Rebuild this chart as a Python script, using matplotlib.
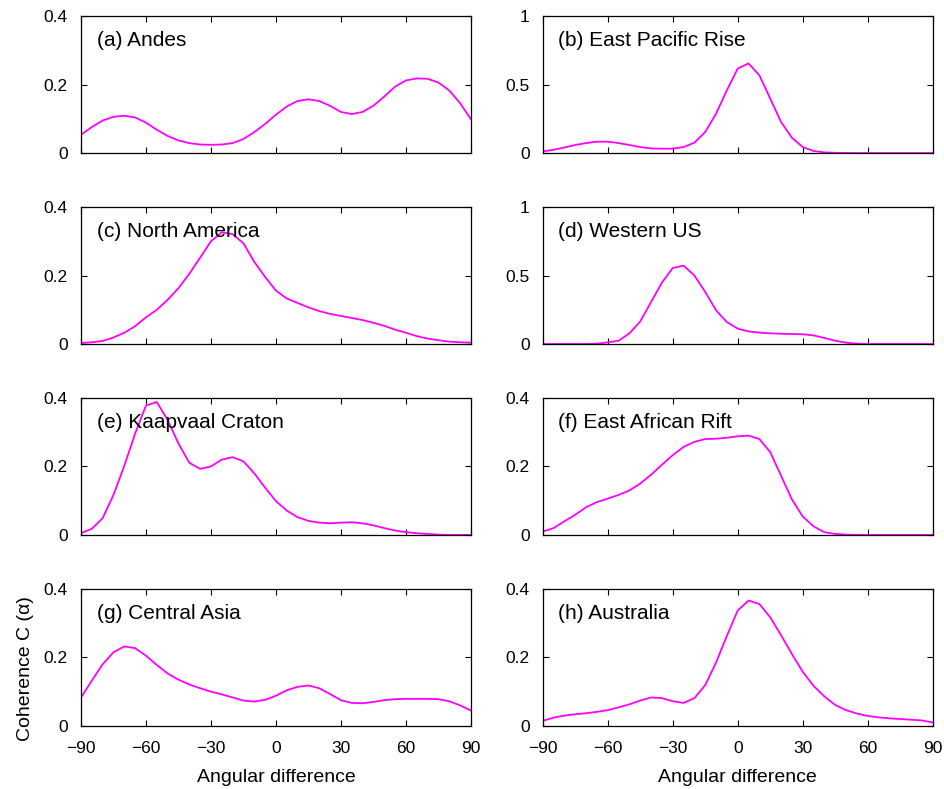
import numpy as np
from matplotlib import pyplot as plt

plt.rcParams['font.family'] = ['Liberation Sans', 'DejaVu Sans']

# angular difference, sampled every 5 degrees
angle = np.arange(-90, 91, 5)

andes = [0.053, 0.076, 0.095, 0.106, 0.109, 0.104, 0.089, 0.068, 0.050, 0.037,
         0.029, 0.025, 0.024, 0.025, 0.029, 0.041, 0.061, 0.085, 0.112, 0.136,
         0.152, 0.157, 0.152, 0.138, 0.120, 0.114, 0.120, 0.138, 0.165, 0.194,
         0.212, 0.218, 0.217, 0.206, 0.183, 0.146, 0.099]
east_pacific = [0.012, 0.024, 0.041, 0.059, 0.073, 0.083, 0.083, 0.073, 0.059, 0.044,
                0.034, 0.032, 0.032, 0.044, 0.076, 0.154, 0.288, 0.459, 0.617, 0.654,
                0.568, 0.398, 0.227, 0.112, 0.044, 0.015, 0.005, 0.002, 0.001, 0.0,
                0.0, 0.0, 0.0, 0.0, 0.0, 0.0, 0.0]
north_america = [0.003, 0.005, 0.009, 0.019, 0.033, 0.052, 0.078, 0.100, 0.129, 0.163,
                 0.205, 0.252, 0.300, 0.326, 0.321, 0.294, 0.240, 0.196, 0.156, 0.133,
                 0.120, 0.107, 0.096, 0.088, 0.082, 0.076, 0.070, 0.062, 0.053, 0.042,
                 0.033, 0.023, 0.016, 0.011, 0.007, 0.005, 0.004]
western_us = [0.0, 0.0, 0.0, 0.0, 0.0, 0.002, 0.012, 0.024, 0.078, 0.165,
              0.307, 0.448, 0.555, 0.572, 0.500, 0.380, 0.246, 0.160, 0.112, 0.092,
              0.083, 0.078, 0.075, 0.073, 0.071, 0.063, 0.044, 0.024, 0.010, 0.002,
              0.0, 0.0, 0.0, 0.0, 0.0, 0.0, 0.0]
kaapvaal = [0.005, 0.018, 0.049, 0.117, 0.202, 0.296, 0.378, 0.388, 0.336, 0.267,
            0.211, 0.193, 0.200, 0.220, 0.227, 0.215, 0.180, 0.138, 0.099, 0.071,
            0.052, 0.041, 0.036, 0.034, 0.036, 0.037, 0.034, 0.028, 0.020, 0.013,
            0.008, 0.005, 0.003, 0.001, 0.0, 0.0, 0.0]
east_african = [0.010, 0.020, 0.040, 0.059, 0.081, 0.096, 0.106, 0.117, 0.130, 0.150,
                0.176, 0.205, 0.233, 0.257, 0.272, 0.280, 0.281, 0.284, 0.288, 0.290,
                0.280, 0.242, 0.173, 0.104, 0.054, 0.025, 0.008, 0.003, 0.001, 0.0,
                0.0, 0.0, 0.0, 0.0, 0.0, 0.0, 0.0]
central_asia = [0.083, 0.132, 0.180, 0.215, 0.232, 0.227, 0.205, 0.178, 0.153, 0.135,
                0.121, 0.110, 0.100, 0.092, 0.083, 0.074, 0.071, 0.076, 0.088, 0.104,
                0.114, 0.118, 0.110, 0.093, 0.075, 0.067, 0.066, 0.070, 0.075, 0.078,
                0.079, 0.079, 0.079, 0.078, 0.072, 0.060, 0.045]
australia = [0.015, 0.024, 0.030, 0.034, 0.037, 0.041, 0.046, 0.054, 0.063, 0.074,
             0.083, 0.081, 0.072, 0.067, 0.081, 0.119, 0.185, 0.263, 0.337, 0.366,
             0.356, 0.317, 0.265, 0.210, 0.158, 0.117, 0.086, 0.061, 0.046, 0.036,
             0.029, 0.025, 0.022, 0.020, 0.018, 0.016, 0.010]

titles = ['(a) Andes', '(b) East Pacific Rise', '(c) North America', '(d) Western US',
          '(e) Kaapvaal Craton', '(f) East African Rift', '(g) Central Asia', '(h) Australia']
series = [andes, east_pacific, north_america, western_us,
          kaapvaal, east_african, central_asia, australia]
ymax = [0.4, 1, 0.4, 1, 0.4, 0.4, 0.4, 0.4]

fig = plt.figure(figsize=(9.44, 7.89), dpi=100)
lefts = [0.0858, 0.575]
bottoms = [0.806, 0.564, 0.322, 0.080]

for i, (title, values, top) in enumerate(zip(titles, series, ymax)):
    row, col = divmod(i, 2)
    ax = fig.add_axes([lefts[col], bottoms[row], 0.413, 0.1736])
    ax.plot(angle, values, color='#ff00ff', linewidth=1.3)
    ax.set_xlim(-90, 90)
    ax.set_ylim(0, top)
    ax.set_xticks(np.arange(-90, 91, 30))
    if top == 1:
        ax.set_yticks([0, 0.5, 1])
        ax.set_yticklabels(['0', '0.5', '1'])
    else:
        ax.set_yticks([0, 0.2, 0.4])
        ax.set_yticklabels(['0', '0.2', '0.4'])
    ax.tick_params(direction='in', top=True, right=True, length=4, width=0.8,
                   labelsize=12.5)
    ax.tick_params(axis='x', pad=11)
    ax.tick_params(axis='y', pad=9.5)
    if row < 3:
        ax.set_xticklabels([])
    else:
        ax.set_xlabel('Angular difference', fontsize=14, labelpad=9)
    if i == 6:
        ax.set_ylabel('Coherence C (\u03b1)', fontsize=14)
        ax.yaxis.set_label_coords(-0.12, 0.42)
    for s in ax.spines.values():
        s.set_linewidth(0.9)
    ax.text(0.04, 0.82, title, transform=ax.transAxes, fontsize=15, va='center')

fig.savefig('out.png', dpi=100)
